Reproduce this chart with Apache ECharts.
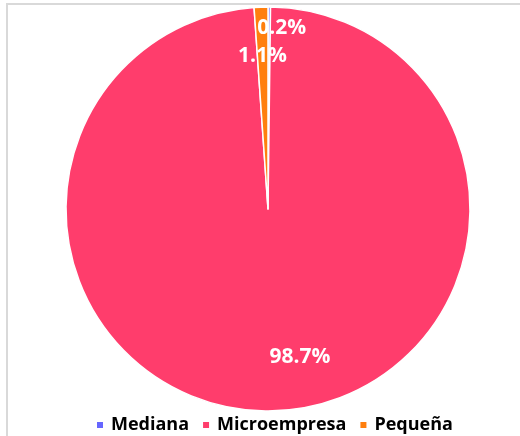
<!DOCTYPE html>
<html>
<head>
<meta charset="utf-8">
<script src="https://cdn.jsdelivr.net/npm/echarts@6/dist/echarts.min.js"></script>
<style>
html,body{margin:0;padding:0;background:#fff;}
#chart{width:520px;height:436px;}
</style>
</head>
<body>
<div id="chart"></div>
<script>
const categories = ['Mediana', 'Microempresa', 'Pequeña'];
const values = [0.2, 98.7, 1.1];
const colors = ['#6666FF', '#FF3D6C', '#FF7F0E'];
const labelOffsets = [[13, -77], [29, 44], [-2, -49]];

const chart = echarts.init(document.getElementById('chart'), null, {renderer: 'canvas'});
const option = {
  animation: false,
  backgroundColor: '#fff',
  color: colors,
  graphic: [{
    type: 'rect',
    shape: {x: 7, y: 4, width: 530, height: 450},
    style: {fill: 'none', stroke: '#d9d9d9', lineWidth: 2},
    silent: true
  }],
  legend: {
    data: categories,
    left: 95,
    top: 415,
    padding: 0,
    itemWidth: 8,
    itemHeight: 8,
    itemGap: 12,
    icon: 'rect',
    textStyle: {
      fontFamily: 'Open Sans',
      fontWeight: 'bold',
      fontSize: 18,
      color: '#000',
      lineHeight: 20,
      padding: [0, 0, 0, 2]
    }
  },
  series: [{
    type: 'pie',
    center: [268, 209],
    radius: 202,
    startAngle: 90,
    clockwise: true,
    avoidLabelOverlap: false,
    itemStyle: {borderColor: '#fff', borderWidth: 1.5},
    label: {
      show: true,
      position: 'inside',
      formatter: p => p.value.toFixed(1) + '%',
      fontFamily: 'Open Sans',
      fontWeight: 'bold',
      fontSize: 21,
      color: '#fff'
    },
    labelLine: {show: false},
    labelLayout: function (params) {
      const o = labelOffsets[params.dataIndex];
      return {dx: o[0], dy: o[1]};
    },
    emphasis: {disabled: true},
    data: categories.map((c, i) => ({name: c, value: values[i]}))
  }]
};
chart.setOption(option);
</script>
</body>
</html>
